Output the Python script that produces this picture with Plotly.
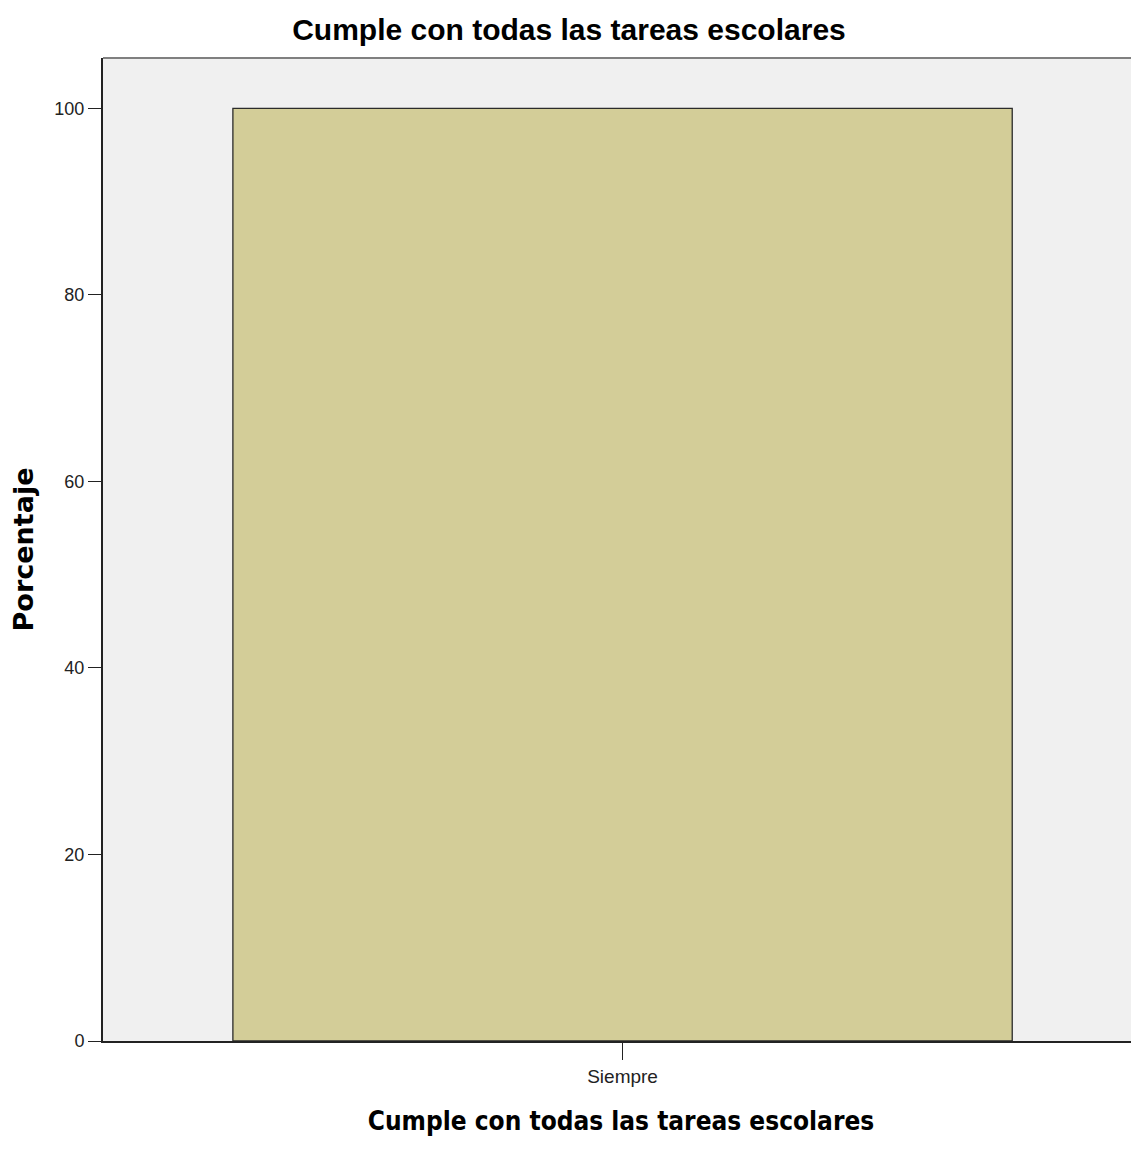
import plotly.graph_objects as go

categories = ["Siempre"]
porcentaje = [100]
y_ticks = [0, 20, 40, 60, 80, 100]

titulo = "Cumple con todas las tareas escolares"

fig = go.Figure(go.Bar(
    x=categories, y=porcentaje,
    width=0.75,
    marker_color="#D3CD98",
    marker_line_color="#2b2b2b",
    marker_line_width=1.3,
))

# the page adds an 8px body margin, so the figure is a little smaller than the window
fig.update_layout(
    width=1131, height=1137,
    margin=dict(l=95, r=0, t=50, b=104),
    paper_bgcolor="white",
    plot_bgcolor="#F0F0F0",
    showlegend=False,
    title=dict(text="<b>" + titulo + "</b>", x=0.496, xanchor="center", y=0.9807, yanchor="middle",
               font=dict(family="Liberation Sans", size=30, color="black")),
)

fig.update_xaxes(
    type="category", range=[-0.5, 0.497],
    showline=True, linecolor="#222", linewidth=2,
    ticks="outside", ticklen=17, tickcolor="#222", tickwidth=1,
    tickfont=dict(family="Liberation Sans", size=19, color="#222"),
    title=dict(text="<b>" + titulo + "</b>", standoff=26,
               font=dict(family="DejaVu Sans Condensed, DejaVu Sans", size=26, color="black")),
    showgrid=False,
)
fig.update_yaxes(
    range=[0, 105.4], tickvals=y_ticks,
    showline=True, linecolor="#222", linewidth=2,
    ticks="outside", ticklen=13, tickcolor="#222", tickwidth=1,
    tickfont=dict(family="Liberation Sans", size=18, color="#222"),
    title=dict(text="<b>Porcentaje</b>", standoff=20,
               font=dict(family="DejaVu Sans", size=27, color="black")),
    showgrid=False, zeroline=False,
)

fig.add_shape(type="line", xref="x domain", yref="y domain", x0=0, x1=1, y0=1, y1=1,
              line=dict(color="#808080", width=2))

fig.write_html("out.html")
